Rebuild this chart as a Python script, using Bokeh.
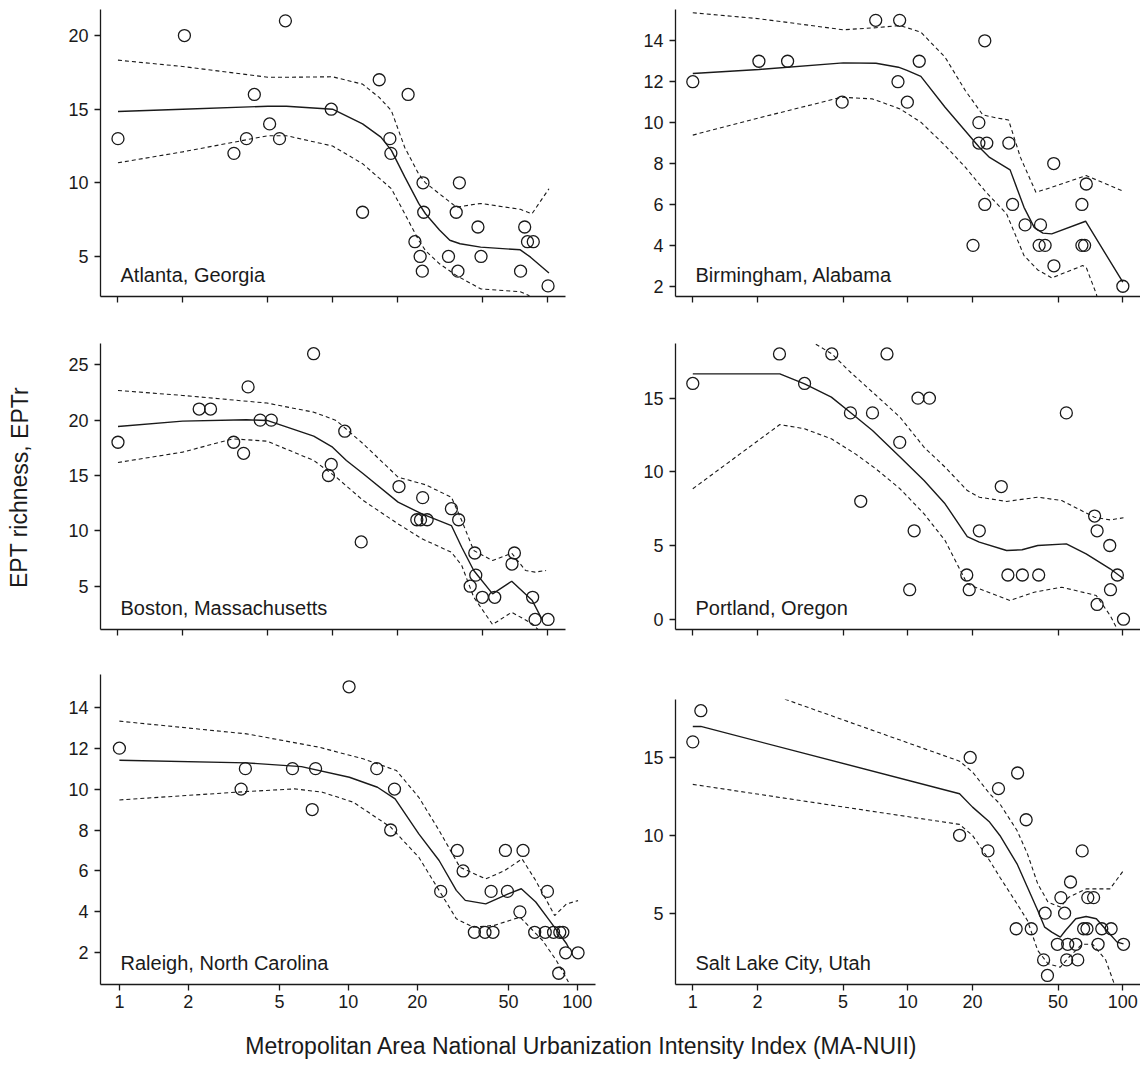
from bokeh.plotting import figure
from bokeh.layouts import row, column
from bokeh.models import FixedTicker, CustomJSTickFormatter, Label, Range1d
from bokeh.embed import file_html
from bokeh.resources import INLINE

FONT = "Liberation Sans"
INK = "#1a1a1a"

X_TICKS = [1, 2, 5, 10, 20, 50, 100]
X_TICK_LABELS = ["1", "2", "5", "10", "20", "50", "100"]
X_TITLE = "Metropolitan Area National Urbanization Intensity Index (MA-NUII)"
Y_TITLE = "EPT richness, EPTr"

# ---------------- Atlanta, Georgia ----------------
ATL_X = [1.0, 2.04, 6.03, 4.32, 3.47, 3.97, 5.09, 5.66, 9.86, 13.8, 16.5, 18.5, 18.7, 22.5, 24.2,
         25.6, 26.2, 26.4, 26.6, 34.7, 37.7, 38.4, 39.0, 47.6, 49.2, 75.2, 78.6, 81.0, 86.2, 101]
ATL_Y = [13, 20, 21, 16, 12, 13, 14, 13, 15, 8, 17, 13, 12, 16, 6,
         5, 4, 10, 8, 5, 8, 4, 10, 7, 5, 4, 7, 6, 6, 3]
ATL_FIT_X = [1, 2, 5, 6.1, 10, 13.8, 16.8, 18.8, 21.7, 25.2, 27.1, 31.5, 35.2, 39.3, 49, 75, 83.7, 102]
ATL_FIT_Y = [14.84, 15.0, 15.2, 15.2, 15.0, 14.0, 13.1, 12.2, 10.4, 8.6, 7.9, 6.8, 6.1, 5.86, 5.63, 5.45, 4.95, 3.87]
ATL_UP_X = [1, 2, 5, 6.1, 10, 13.8, 16.5, 18.8, 21.7, 25.2, 27.1, 31.5, 37.8, 49, 75, 85, 102]
ATL_UP_Y = [18.33, 17.9, 17.17, 17.17, 17.2, 16.7, 15.8, 14.9, 12.4, 10.6, 10.0, 9.25, 8.35, 8.6, 8.2, 7.9, 9.6]
ATL_LO_X = [1, 2, 5, 6.1, 10, 13.8, 18.8, 21.7, 25.2, 27.1, 31.5, 37.8, 49, 75, 82.2, 86]
ATL_LO_Y = [11.36, 12.1, 13.2, 13.2, 12.5, 11.3, 9.6, 7.9, 6.1, 5.4, 4.5, 3.7, 2.8, 2.6, 2.35, 1.8]
ATL_Y_TICKS = [5, 10, 15, 20]

# ---------------- Birmingham, Alabama ----------------
BHM_X = [1, 2.03, 2.76, 4.95, 7.09, 9.16, 9.0, 9.95, 11.3, 20.1, 21.4, 21.4, 23.3, 22.8, 22.8,
         29.5, 30.7, 35.1, 41.4, 40.8, 43.5, 47.7, 47.8, 64.5, 64.5, 66.4, 67.6, 100]
BHM_Y = [12, 13, 13, 11, 15, 15, 12, 11, 13, 4, 10, 9, 9, 14, 6,
         9, 6, 5, 5, 4, 4, 8, 3, 6, 4, 4, 7, 2]
BHM_FIT_X = [1, 2.03, 5.01, 7.11, 9.04, 9.91, 11.5, 14.9, 21.5, 24.0, 29.9, 34.7, 38.7, 42.5, 46.7, 67.1, 100]
BHM_FIT_Y = [12.4, 12.6, 12.92, 12.9, 12.71, 12.55, 12.26, 10.75, 8.8, 8.3, 7.69, 5.86, 4.88, 4.6, 4.56, 5.18, 2.2]
BHM_UP_X = [1, 2.03, 5.01, 7.11, 9.2, 11.5, 14.9, 18.5, 22.3, 25.8, 29.4, 33.4, 39.4, 44.2, 67.5, 101]
BHM_UP_Y = [15.37, 15.08, 14.54, 14.64, 14.75, 14.42, 13.2, 11.57, 10.38, 10.23, 10.13, 8.3, 6.6, 6.76, 7.41, 6.64]
BHM_LO_X = [1, 2.03, 4.92, 6.85, 9.2, 11.5, 14.9, 18.5, 23.1, 28.8, 34.7, 40.2, 46.7, 65.0, 67.5, 75.3, 77]
BHM_LO_Y = [9.39, 10.23, 11.24, 11.16, 10.67, 10.02, 8.88, 7.82, 6.6, 5.54, 3.5, 2.8, 2.41, 3.01, 2.93, 1.62, 1.2]
BHM_Y_TICKS = [2, 4, 6, 8, 10, 12, 14]

# ---------------- Boston, Massachusetts ----------------
BOS_X = [1, 2.39, 2.70, 3.46, 3.85, 4.04, 4.60, 5.18, 8.16, 9.57, 9.86, 11.4, 13.6, 20.4, 24.7,
         25.7, 27.6, 26.3, 35.8, 38.7, 43.8, 46.0, 46.5, 49.9, 57.0, 68.6, 70.4, 85.6, 87.9, 101]
BOS_Y = [18, 21, 21, 18, 17, 23, 20, 20, 26, 15, 16, 19, 9, 14, 11,
         11, 11, 13, 12, 11, 5, 8, 6, 4, 4, 7, 8, 4, 2, 2]
BOS_FIT_X = [1, 2.0, 3.97, 4.95, 8.17, 10, 11.6, 13.9, 20.2, 26.1, 35.8, 40.0, 45.5, 55.7, 68.4, 85.3, 95.3]
BOS_FIT_Y = [19.43, 19.91, 20.03, 19.97, 18.55, 17.56, 16.36, 15.15, 12.59, 11.53, 10.48, 8.52, 6.42, 4.31, 5.45, 3.7, 1.9]
BOS_UP_X = [1, 2.0, 4.95, 8.17, 10.4, 13.9, 20.2, 27.1, 35.8, 40.0, 45.5, 55.7, 68.4, 79.3, 87.9, 98.9]
BOS_UP_Y = [22.68, 22.23, 21.54, 20.72, 19.97, 17.86, 14.85, 14.16, 13.04, 10.93, 8.22, 7.32, 7.98, 6.42, 6.27, 6.42]
BOS_LO_X = [1, 2.0, 3.43, 4.95, 8.17, 10.4, 13.9, 20.2, 26.1, 35.8, 40.0, 45.5, 55.7, 68.4, 85.3, 91.8]
BOS_LO_Y = [16.17, 17.11, 18.31, 18.1, 16.36, 14.85, 12.74, 10.63, 9.28, 8.07, 6.87, 4.01, 1.54, 2.65, 1.6, 1.0]
BOS_Y_TICKS = [5, 10, 15, 20, 25]

# ---------------- Portland, Oregon ----------------
POR_X = [1, 2.53, 3.31, 4.43, 5.41, 6.04, 6.85, 8.0, 9.17, 10.2, 10.7, 11.15, 12.6, 18.8,
         19.3, 21.5, 27.2, 29.2, 34.1, 40.6, 54.6, 73.9, 75.9, 75.9, 86.9, 87.6, 94.3, 100.7]
POR_Y = [16, 18, 16, 18, 14, 8, 14, 18, 12, 2, 6, 15, 15, 3,
         2, 6, 9, 3, 3, 3, 14, 7, 6, 1, 5, 2, 3, 0]
POR_FIT_X = [1, 2.54, 3.31, 4.41, 5.5, 6.85, 9.2, 11.9, 14.9, 18.9, 21.5, 28.8, 34.0, 40.2, 54.6, 67.5, 87.3, 100.7]
POR_FIT_Y = [16.65, 16.65, 15.97, 15.07, 13.94, 12.81, 11.0, 9.41, 7.83, 5.61, 5.23, 4.66, 4.71, 5.0, 5.11, 4.43, 3.42, 2.74]
POR_UP_X = [3.3, 3.67, 4.44, 5.3, 6.85, 9.2, 11.9, 14.9, 18.9, 21.5, 28.8, 40.2, 52.0, 73.8, 87.3, 100.7]
POR_UP_Y = [19.2, 18.73, 18.0, 16.88, 15.41, 13.71, 11.67, 10.32, 8.73, 8.28, 7.99, 8.28, 8.05, 6.92, 6.74, 6.88]
POR_LO_X = [1, 2.54, 3.31, 4.41, 5.7, 7.11, 9.2, 11.9, 14.9, 18.9, 21.5, 29.9, 38.7, 52.0, 75.2, 87.3, 94.0]
POR_LO_Y = [8.85, 13.21, 12.92, 12.24, 11.22, 10.2, 8.85, 7.15, 5.34, 2.4, 2.06, 1.27, 1.83, 2.17, 1.61, 0.25, -0.66]
POR_Y_TICKS = [0, 5, 10, 15]

# ---------------- Raleigh, North Carolina ----------------
RAL_X = [1, 3.40, 3.55, 5.70, 6.95, 7.19, 10.07, 13.3, 15.3, 15.9, 25.3, 29.9, 31.7, 35.5, 39.5,
         42.8, 42.0, 48.5, 49.5, 56.1, 57.9, 65.1, 72.4, 74.0, 78.7, 83.8, 86.4, 82.9, 88.9, 100.7]
RAL_Y = [12, 10, 11, 11, 9, 11, 15, 11, 8, 10, 5, 7, 6, 3, 3,
         3, 5, 7, 5, 4, 7, 3, 3, 5, 3, 3, 3, 1, 2, 2]
RAL_FIT_X = [1, 3.59, 6.24, 10.1, 13.4, 16.0, 20.3, 24.9, 29.6, 32.4, 39.8, 49.9, 56.9, 65.8, 75.5, 89.7, 91.5]
RAL_FIT_Y = [11.41, 11.28, 11.1, 10.58, 10.09, 9.52, 7.81, 6.51, 5.05, 4.56, 4.39, 4.88, 5.13, 4.48, 3.58, 2.44, 2.25]
RAL_UP_X = [1, 3.59, 7.43, 11.6, 16.2, 20.3, 24.9, 30.7, 39.8, 48.2, 57.3, 65.8, 79.6, 89.7, 100.7]
RAL_UP_Y = [13.32, 12.7, 12.05, 11.48, 10.91, 9.6, 7.98, 6.18, 5.61, 6.02, 6.59, 5.53, 3.82, 4.39, 4.55]
RAL_LO_X = [1, 3.59, 5.82, 7.69, 10.5, 15.3, 20.3, 24.9, 29.6, 35.2, 43.4, 56.2, 70.5, 80.9, 91.4]
RAL_LO_Y = [9.47, 9.88, 10.01, 9.85, 9.36, 8.14, 6.67, 5.05, 3.66, 3.25, 3.34, 3.74, 2.6, 1.63, 0.57]
RAL_Y_TICKS = [2, 4, 6, 8, 10, 12, 14]

# ---------------- Salt Lake City, Utah ----------------
SLC_X = [1, 1.09, 17.4, 19.5, 23.6, 26.4, 31.9, 32.4, 35.5, 37.5, 42.8, 43.5, 44.6, 49.6, 51.5,
         53.6, 54.8, 55.4, 57.1, 60.4, 61.7, 64.7, 65.7, 68.1, 68.7, 73.1, 76.7, 79.8, 88.2, 100.7]
SLC_Y = [16, 18, 10, 15, 9, 13, 4, 14, 11, 4, 2, 5, 1, 3, 6,
         5, 2, 3, 7, 3, 2, 9, 4, 4, 6, 6, 3, 4, 4, 3]
SLC_FIT_X = [1, 1.09, 17.4, 20.0, 24.0, 26.8, 32.2, 36.0, 40.2, 43.3, 46.7, 51.2, 54.1, 60.4, 67.5, 75.3, 84.1, 94.0, 100.7]
SLC_FIT_Y = [16.99, 16.99, 12.67, 11.81, 10.85, 9.99, 8.17, 6.67, 5.17, 4.1, 3.78, 3.46, 3.89, 4.64, 4.79, 4.64, 3.89, 3.14, 3.03]
SLC_UP_X = [2.5, 2.73, 17.4, 20.0, 24.0, 26.8, 32.2, 36.0, 40.2, 44.9, 51.2, 56.1, 67.5, 87.1, 100.7]
SLC_UP_Y = [18.9, 18.7, 14.76, 14.06, 12.67, 12.02, 10.31, 8.81, 6.88, 5.71, 5.39, 6.03, 6.56, 6.56, 7.74]
SLC_LO_X = [1, 17.4, 20.0, 24.0, 26.8, 32.2, 36.0, 40.2, 44.9, 51.2, 56.1, 64.6, 72.4, 83.2, 91.2]
SLC_LO_Y = [13.27, 10.7, 9.99, 8.38, 7.31, 5.6, 4.53, 2.6, 1.75, 1.53, 2.17, 3.0, 3.0, 2.0, 0.46]
SLC_Y_TICKS = [5, 10, 15]


def make_panel(name, px, py, fx, fy, ux, uy, lx, ly, yticks, xr, yr,
               width, height, bl, br, bt, bb, x_labels):
    p = figure(width=width, height=height, x_axis_type="log",
               x_range=Range1d(*xr), y_range=Range1d(*yr),
               output_backend="svg", toolbar_location=None, title=None,
               min_border_left=bl, min_border_right=br,
               min_border_top=bt, min_border_bottom=bb)
    p.frame_align = False
    p.grid.visible = False
    p.outline_line_color = None
    p.background_fill_color = "white"
    p.border_fill_color = "white"

    p.line(ux, uy, line_color=INK, line_width=1.1, line_dash="4 3")
    p.line(lx, ly, line_color=INK, line_width=1.1, line_dash="4 3")
    p.line(fx, fy, line_color=INK, line_width=1.4)
    p.scatter(px, py, marker="circle", size=12, fill_color=None,
              line_color=INK, line_width=1.3)

    xa = p.xaxis[0]
    xa.ticker = FixedTicker(ticks=X_TICKS, minor_ticks=[])
    if x_labels:
        xa.formatter = CustomJSTickFormatter(
            args=dict(xt=X_TICKS, xl=X_TICK_LABELS),
            code="const i = xt.indexOf(tick); return i >= 0 ? xl[i] : '';")
        xa.major_label_text_font_size = "18px"
    else:
        xa.formatter = CustomJSTickFormatter(code="return '';")
        xa.major_label_text_font_size = "1px"
    xa.major_label_standoff = 4

    ya = p.yaxis[0]
    ya.ticker = FixedTicker(ticks=yticks, minor_ticks=[])
    ya.major_label_text_font_size = "18px"
    ya.major_label_standoff = 6

    for ax in (xa, ya):
        ax.axis_line_color = INK
        ax.axis_line_width = 1.3
        ax.major_tick_line_color = INK
        ax.major_tick_line_width = 1.3
        ax.major_tick_out = 6
        ax.major_tick_in = 0
        ax.minor_tick_line_color = None
        ax.major_label_text_font = FONT
        ax.major_label_text_color = INK

    p.add_layout(Label(x=xr[0], y=yr[0], x_offset=20, y_offset=22, text=name,
                       text_font=FONT, text_font_size="20px", text_color=INK,
                       text_align="left", text_baseline="alphabetic"))
    return p


XR_LEFT = (0.829, 121.8)
XR_LEFT_BOTTOM = (0.827, 120.0)
XR_RIGHT = (0.831, 120.8)

STRIP_W = 48
LEFT_W = 572
RIGHT_W = 520

p_atl = make_panel("Atlanta, Georgia", ATL_X, ATL_Y, ATL_FIT_X, ATL_FIT_Y, ATL_UP_X, ATL_UP_Y,
                   ATL_LO_X, ATL_LO_Y, ATL_Y_TICKS, XR_LEFT, (2.28, 21.77),
                   LEFT_W, 320, 52, 55, 9, 24, False)
p_bhm = make_panel("Birmingham, Alabama", BHM_X, BHM_Y, BHM_FIT_X, BHM_FIT_Y, BHM_UP_X, BHM_UP_Y,
                   BHM_LO_X, BHM_LO_Y, BHM_Y_TICKS, XR_RIGHT, (1.50, 15.53),
                   RIGHT_W, 320, 55, 0, 9, 24, False)
p_bos = make_panel("Boston, Massachusetts", BOS_X, BOS_Y, BOS_FIT_X, BOS_FIT_Y, BOS_UP_X, BOS_UP_Y,
                   BOS_LO_X, BOS_LO_Y, BOS_Y_TICKS, XR_LEFT, (1.09, 26.92),
                   LEFT_W, 330, 52, 55, 23, 21, False)
p_por = make_panel("Portland, Oregon", POR_X, POR_Y, POR_FIT_X, POR_FIT_Y, POR_UP_X, POR_UP_Y,
                   POR_LO_X, POR_LO_Y, POR_Y_TICKS, XR_RIGHT, (-0.70, 18.71),
                   RIGHT_W, 330, 55, 0, 23, 21, False)
p_ral = make_panel("Raleigh, North Carolina", RAL_X, RAL_Y, RAL_FIT_X, RAL_FIT_Y, RAL_UP_X, RAL_UP_Y,
                   RAL_LO_X, RAL_LO_Y, RAL_Y_TICKS, XR_LEFT_BOTTOM, (0.45, 15.60),
                   LEFT_W, 375, 52, 25, 24, 41, True)
p_slc = make_panel("Salt Lake City, Utah", SLC_X, SLC_Y, SLC_FIT_X, SLC_FIT_Y, SLC_UP_X, SLC_UP_Y,
                   SLC_LO_X, SLC_LO_Y, SLC_Y_TICKS, XR_RIGHT, (0.42, 18.72),
                   RIGHT_W, 375, 55, 0, 49, 41, True)


def text_strip(width, height, text, x, y, angle, size):
    s = figure(width=width, height=height, x_range=Range1d(0, width), y_range=Range1d(0, height),
               output_backend="svg", toolbar_location=None, title=None,
               min_border=0, min_border_left=0, min_border_right=0,
               min_border_top=0, min_border_bottom=0)
    s.frame_align = False
    s.axis.visible = False
    s.grid.visible = False
    s.outline_line_color = None
    s.border_fill_color = "white"
    s.add_layout(Label(x=x, y=y, text=text, angle=angle, text_font=FONT,
                       text_font_size=size, text_color=INK,
                       text_align="center", text_baseline="middle"))
    return s


GRID_H = 320 + 330 + 375
XSTRIP_H = 44
y_strip = text_strip(STRIP_W, GRID_H, Y_TITLE, 19, GRID_H - 487, 1.5707963, "23px")
x_strip = text_strip(STRIP_W + LEFT_W + RIGHT_W, XSTRIP_H, X_TITLE, 581, XSTRIP_H - 20, 0, "23px")

grid = column(row(p_atl, p_bhm), row(p_bos, p_por), row(p_ral, p_slc))
layout = column(row(y_strip, grid), x_strip)

open("out.html", "w").write(file_html(layout, INLINE))
